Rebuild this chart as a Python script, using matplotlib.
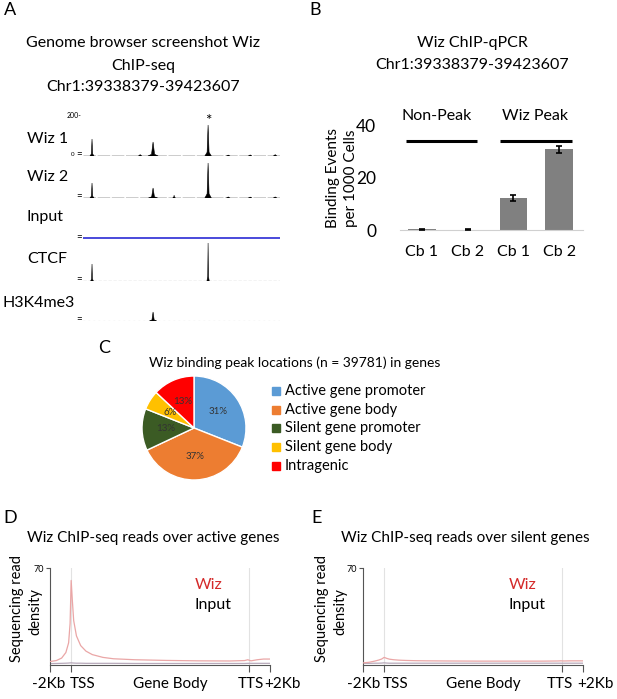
import matplotlib
matplotlib.use('Agg')
import matplotlib.pyplot as plt
from matplotlib.patches import Rectangle
import matplotlib.transforms as mtransforms

# ---------------- data ----------------
# Panel A: genome browser tracks (positions in kb from Chr1:39338379)
region_kb = 85.2
wiz1_pos = [3.9, 24.7, 30.3, 54.1, 62.8, 72.3, 83.1]
wiz1_height = [85, 8, 70, 155, 5, 6, 8]
wiz1_width = [0.9, 0.8, 2.2, 1.4, 0.8, 0.8, 0.8]
wiz2_pos = [3.9, 30.3, 39.4, 54.1, 62.8, 72.3, 83.1]
wiz2_height = [75, 50, 14, 175, 6, 5, 6]
wiz2_width = [0.9, 2.0, 0.6, 1.4, 0.8, 0.8, 0.8]
ctcf_pos = [3.9, 54.1]
ctcf_height = [85, 190]
ctcf_width = [0.6, 0.5]
h3k4_pos = [30.3]
h3k4_height = [45]
h3k4_width = [1.6]
track_labels = ['Wiz 1', 'Wiz 2', 'Input', 'CTCF', 'H3K4me3']

# Panel B: ChIP-qPCR
qpcr_ticklabels = ['Cb 1', 'Cb 2', 'Cb 1', 'Cb 2']
qpcr_values = [0.3, 0.15, 12.3, 31.0]
qpcr_errors = [0.2, 0.05, 1.1, 1.4]
qpcr_groups = ['Non-Peak', 'Wiz Peak']
qpcr_yticks = [0, 20, 40]

# Panel C: pie
pie_labels = ['Active gene promoter', 'Active gene body', 'Silent gene promoter',
              'Silent gene body', 'Intragenic']
pie_values = [31, 37, 13, 6, 13]
pie_colors = ['#5B9BD5', '#ED7D31', '#3B5B24', '#FFC000', '#FF0000']

# Panels D/E: metagene profiles
prof_ticks = [0, 1, 9.4, 10.4]
prof_ticklabels = ['-2Kb', 'TSS', 'TTS', '+2Kb']
prof_x = [0, 0.3, 0.55, 0.75, 0.88, 0.95, 1.0, 1.05, 1.12, 1.25, 1.45, 1.7, 2.0,
          2.5, 3.0, 4.0, 5.5, 7.0, 8.5, 9.2, 9.35, 9.5, 9.8, 10.1, 10.4]
active_wiz = [2.5, 3.2, 5, 9, 16, 30, 61, 48, 32, 21, 14, 10, 7.5, 5.5, 4.5, 3.8,
              3.3, 3.0, 2.9, 3.2, 3.8, 3.0, 3.8, 4.3, 4.3]
active_input = [1.0, 1.1, 1.2, 1.3, 1.4, 1.5, 1.6, 1.5, 1.4, 1.3, 1.3, 1.2, 1.2,
                1.2, 1.2, 1.1, 1.1, 1.1, 1.1, 1.1, 1.2, 1.2, 1.2, 1.2, 1.2]
silent_wiz = [1.5, 2.0, 2.8, 3.6, 4.3, 5.0, 5.5, 5.2, 4.8, 4.2, 3.8, 3.5, 3.3,
              3.1, 3.0, 2.9, 2.8, 2.8, 2.8, 2.9, 3.0, 2.9, 3.0, 3.0, 3.0]
silent_input = [1.2, 1.2, 1.3, 1.3, 1.4, 1.5, 1.6, 1.5, 1.4, 1.3, 1.3, 1.3, 1.3,
                1.3, 1.3, 1.3, 1.3, 1.3, 1.3, 1.3, 1.3, 1.3, 1.3, 1.3, 1.3]

# ---------------- figure ----------------
W, H = 617, 699
plt.rcParams['font.family'] = ['Lato', 'DejaVu Sans']
fig = plt.figure(figsize=(W / 100, H / 100), dpi=100)


def ax_px(l, t, r, b):
    return fig.add_axes([l / W, 1 - b / H, (r - l) / W, (b - t) / H])


def ftext(x, y, s, **kw):
    kw.setdefault('va', 'center')
    return fig.text(x / W, 1 - y / H, s, **kw)


# ---------- Panel A ----------
ftext(10, 10, 'A', fontsize=13, ha='center')
ftext(143, 43, 'Genome browser screenshot Wiz', fontsize=11.5, ha='center')
ftext(143, 66, 'ChIP-seq', fontsize=11.5, ha='center')
ftext(143, 87, 'Chr1:39338379-39423607', fontsize=11.5, ha='center')


def draw_peaks(ax, pos, hts, wds, color='black'):
    for p, h, w in zip(pos, hts, wds):
        ax.fill([p - w, p - w * 0.3, p, p + w * 0.3, p + w],
                [0, 0.12 * h, h, 0.12 * h, 0], color=color, lw=0.4)


track_boxes = [(116, 156), (158, 198), (199, 239), (241, 281), (281, 321)]
track_label_y = [139, 177, 217, 259, 303]
track_label_x = [27, 27, 26, 27, 2]
tracks = [(wiz1_pos, wiz1_height, wiz1_width), (wiz2_pos, wiz2_height, wiz2_width),
          None, (ctcf_pos, ctcf_height, ctcf_width), (h3k4_pos, h3k4_height, h3k4_width)]
for i, (top, bot) in enumerate(track_boxes):
    ax = ax_px(83, top, 280, bot)
    ax.set_xlim(0, region_kb)
    ax.set_ylim(0, 200)
    ax.axis('off')
    if i in (0, 1):
        ax.plot([0, region_kb], [2, 2], color='black', lw=1.0, dashes=(9, 1.2))
    elif i == 2:
        ax.plot([0, region_kb], [3, 3], color='#3a3ad8', lw=1.3)
    elif i == 3:
        ax.plot([0, region_kb], [2, 2], color='#333333', lw=0.8, dashes=(3, 1.5))
    else:
        ax.plot([0, region_kb], [2, 2], color='#888888', lw=0.8, dashes=(1.5, 3))
    if tracks[i] is not None:
        draw_peaks(ax, *tracks[i])
    ftext(track_label_x[i], track_label_y[i], track_labels[i], fontsize=11.5, ha='left')
    ftext(79, bot - 1, '=', fontsize=7, ha='center')
ftext(74, 116, '200-', fontsize=5, ha='center')
ftext(73, 154, '0', fontsize=4.5, ha='center')
ftext(208, 121, '*', fontsize=11, ha='center')

# ---------- Panel B ----------
ftext(315, 10, 'B', fontsize=13, ha='center')
ftext(472, 43, 'Wiz ChIP-qPCR', fontsize=11.5, ha='center')
ftext(472, 65, 'Chr1:39338379-39423607', fontsize=11.5, ha='center')
axb = ax_px(400, 113, 583, 230)
xb = list(range(len(qpcr_values)))
axb.bar(xb, qpcr_values, width=0.61, color='#808080', zorder=2)
axb.errorbar(xb, qpcr_values, yerr=qpcr_errors, fmt='none', ecolor='black',
             elinewidth=1.2, capsize=2, capthick=1.2, zorder=3)
axb.set_xlim(-0.48, 3.52)
axb.set_ylim(0, 45)
axb.set_yticks(qpcr_yticks)
axb.set_yticklabels([str(v) for v in qpcr_yticks], fontsize=12.5)
axb.set_xticks(xb)
axb.set_xticklabels(qpcr_ticklabels, fontsize=11.5)
axb.tick_params(axis='both', length=0)
axb.tick_params(axis='x', pad=11)
axb.tick_params(axis='y', pad=17)
for s in ['top', 'right', 'left']:
    axb.spines[s].set_visible(False)
axb.spines['bottom'].set_color('#d0d0d0')
axb.plot([-0.35, 1.2], [34.2, 34.2], color='black', lw=2.2, solid_capstyle='butt')
axb.plot([1.7, 3.28], [34.2, 34.2], color='black', lw=2.2, solid_capstyle='butt')
axb.text(0.33, 44, qpcr_groups[0], fontsize=11.5, ha='center', va='center')
axb.text(2.48, 44, qpcr_groups[1], fontsize=11.5, ha='center', va='center')
ftext(333, 178, 'Binding Events', fontsize=11, ha='center', rotation=90)
ftext(351, 178, 'per 1000 Cells', fontsize=11, ha='center', rotation=90)

# ---------- Panel C ----------
ftext(104, 348, 'C', fontsize=13, ha='center')
ftext(295, 363, 'Wiz binding peak locations (n = 39781) in genes', fontsize=10, ha='center')
axc = ax_px(194 - 55, 428 - 55, 194 + 55, 428 + 55)
wedges, texts, autotexts = axc.pie(pie_values, colors=pie_colors, startangle=90,
                                   counterclock=False, autopct='%d%%', pctdistance=0.55,
                                   wedgeprops=dict(edgecolor='white', linewidth=1.0),
                                   textprops=dict(fontsize=7, color='#333333'))
axc.set_xlim(-1.058, 1.058)
axc.set_ylim(-1.058, 1.058)
axc.set_aspect('equal')
legend_y = [391, 410, 428, 447, 466]
for lab, col, yy in zip(pie_labels, pie_colors, legend_y):
    fig.patches.append(Rectangle((272 / W, 1 - (yy + 4) / H), 8 / W, 8 / H,
                                 transform=fig.transFigure, color=col))
    ftext(285, yy, lab, fontsize=10.5, ha='left')


# ---------- Panels D / E ----------
def profile(left, letter, letter_x, title, title_x, wiz, inp, text_x, ylab_x,
            label_dx):
    ftext(letter_x, 518, letter, fontsize=13, ha='center')
    ftext(title_x, 538, title, fontsize=11, ha='center')
    ax = ax_px(left, 568, left + 220, 665)
    ax.set_xlim(0, 10.4)
    ax.set_ylim(0, 70)
    for xv in (prof_ticks[1], prof_ticks[2]):
        ax.plot([xv, xv], [0, 70], color='#e2e2e2', lw=0.8, zorder=1)
    ax.plot(prof_x, inp, color='#b8aabb', lw=0.9, zorder=2)
    ax.plot(prof_x, wiz, color='#eaa6a6', lw=0.9, zorder=3)
    for s in ['top', 'right']:
        ax.spines[s].set_visible(False)
    for s in ['left', 'bottom']:
        ax.spines[s].set_color('#555555')
        ax.spines[s].set_linewidth(0.8)
    ax.set_yticks([70])
    ax.set_yticklabels(['70'], fontsize=6.5)
    ax.tick_params(axis='y', length=3, width=0.8, color='#555555', pad=1)
    ax.set_xticks(prof_ticks)
    ax.set_xticklabels([])
    ax.tick_params(axis='x', length=5, width=0.8, color='#555555')
    tr = mtransforms.blended_transform_factory(ax.transData, ax.transAxes)
    for xv, lab, dx in zip(prof_ticks, prof_ticklabels, label_dx):
        off = mtransforms.ScaledTranslation(dx / 100, 0, fig.dpi_scale_trans)
        ax.text(xv, -0.2, lab, fontsize=11, ha='center', va='center',
                transform=tr + off)
    ax.text(5.7, -0.2, 'Gene Body', fontsize=11, ha='center', va='center', transform=tr)
    ax.text(text_x, 58, 'Wiz', color='#d42a2a', fontsize=11.5, ha='left', va='center')
    ax.text(text_x, 43, 'Input', color='black', fontsize=11.5, ha='left', va='center')
    ftext(ylab_x[0], 608, 'Sequencing read', fontsize=10.5, ha='center', rotation=90)
    ftext(ylab_x[1], 612, 'density', fontsize=10.5, ha='center', rotation=90)
    return ax


profile(50, 'D', 10, 'Wiz ChIP-seq reads over active genes', 153, active_wiz,
        active_input, 6.84, (17, 35), (-1, 11.5, 2, 12.5))
profile(363, 'E', 317, 'Wiz ChIP-seq reads over silent genes', 465, silent_wiz,
        silent_input, 6.9, (322, 340), (1, 11, -2, 12.5))

fig.savefig('out.png', dpi=100)
